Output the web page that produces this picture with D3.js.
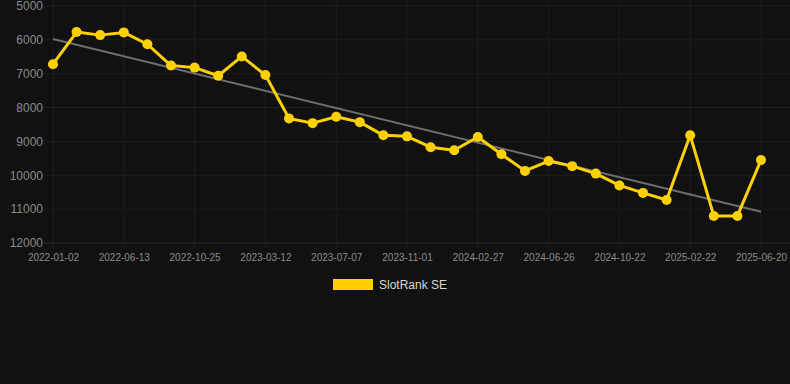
<!DOCTYPE html>
<html>
<head>
<meta charset="utf-8">
<script src="https://cdn.jsdelivr.net/npm/d3@7"></script>
<style>
  html, body { margin: 0; padding: 0; background: #111111; }
  svg { display: block; font-family: "Liberation Sans", Arial, sans-serif; }
</style>
</head>
<body>
<div id="chart"></div>
<script>
// rank of the game, one point per period (lower is better, so axis is reversed)
var rankValues = [6720, 5770, 5860, 5780, 6130, 6760, 6820, 7060, 6490, 7040,
                  8320, 8460, 8270, 8430, 8820, 8850, 9170, 9260, 8870, 9380,
                  9870, 9580, 9730, 9950, 10300, 10520, 10730, 8820, 11200, 11200,
                  9550];
// labels shown on the x axis, every third point
var tickLabels = ["2022-01-02", "2022-06-13", "2022-10-25", "2023-03-12", "2023-07-07",
                  "2023-11-01", "2024-02-27", "2024-06-26", "2024-10-22", "2025-02-22",
                  "2025-06-20"];
var yTicks = [5000, 6000, 7000, 8000, 9000, 10000, 11000, 12000];
var trendValues = [5975, 11075]; // start / end of the trend line
var seriesName = "SlotRank SE";

var W = 790, H = 384;
var svg = d3.select('#chart').append('svg')
  .attr('width', W).attr('height', H);

var x = d3.scalePoint().domain(d3.range(rankValues.length)).range([53, 761]);
var y = d3.scaleLinear().domain([5000, 12000]).range([6, 243]);

var gridLeft = 44, gridRight = 790;

// horizontal grid
svg.append('g').selectAll('line')
  .data(yTicks).enter().append('line')
  .attr('x1', gridLeft).attr('x2', gridRight)
  .attr('y1', function(d){ return y(d); })
  .attr('y2', function(d){ return y(d); })
  .attr('stroke', function(d){ return d === 12000 ? '#2a2a2a' : '#1e1e1e'; })
  .attr('stroke-width', 1);

// vertical grid at the labelled points
var tickIdx = tickLabels.map(function(d, i){ return i * 3; });
svg.append('g').selectAll('line')
  .data(tickIdx).enter().append('line')
  .attr('x1', function(d){ return x(d); })
  .attr('x2', function(d){ return x(d); })
  .attr('y1', 0).attr('y2', 248)
  .attr('stroke', '#1e1e1e').attr('stroke-width', 1);

// y axis labels
var yAxis = svg.append('g')
  .attr('transform', 'translate(' + gridLeft + ',0)')
  .call(d3.axisLeft(y).tickValues(yTicks).tickSize(0).tickPadding(1).tickFormat(d3.format('d')));
yAxis.select('.domain').remove();
yAxis.selectAll('text').attr('fill', '#8a8a8a').style('font-size', '12px');

// x axis labels
var xAxis = svg.append('g')
  .attr('transform', 'translate(0,248)')
  .call(d3.axisBottom(x).tickValues(tickIdx).tickSize(0).tickPadding(6)
    .tickFormat(function(d){ return tickLabels[d / 3]; }));
xAxis.select('.domain').remove();
xAxis.selectAll('text').attr('fill', '#8a8a8a').style('font-size', '10px');

// trend line
svg.append('line')
  .attr('x1', x(0)).attr('x2', x(rankValues.length - 1))
  .attr('y1', y(trendValues[0])).attr('y2', y(trendValues[1]))
  .attr('stroke', '#6e6e6e').attr('stroke-width', 2);

// series line
var line = d3.line()
  .x(function(d, i){ return x(i); })
  .y(function(d){ return y(d); });

svg.append('path')
  .datum(rankValues)
  .attr('d', line)
  .attr('fill', 'none')
  .attr('stroke', '#FFD100')
  .attr('stroke-width', 3)
  .attr('stroke-linejoin', 'round');

svg.append('g').selectAll('circle')
  .data(rankValues).enter().append('circle')
  .attr('cx', function(d, i){ return x(i); })
  .attr('cy', function(d){ return y(d); })
  .attr('r', 5)
  .attr('fill', '#FFD100');

// legend
var legend = svg.append('g').attr('transform', 'translate(333,279)');
legend.append('rect')
  .attr('width', 40).attr('height', 11)
  .attr('fill', '#FFD100');
legend.append('text')
  .attr('x', 46).attr('y', 10)
  .attr('fill', '#d8d8d8')
  .style('font-size', '12px')
  .text(seriesName);
</script>
</body>
</html>
